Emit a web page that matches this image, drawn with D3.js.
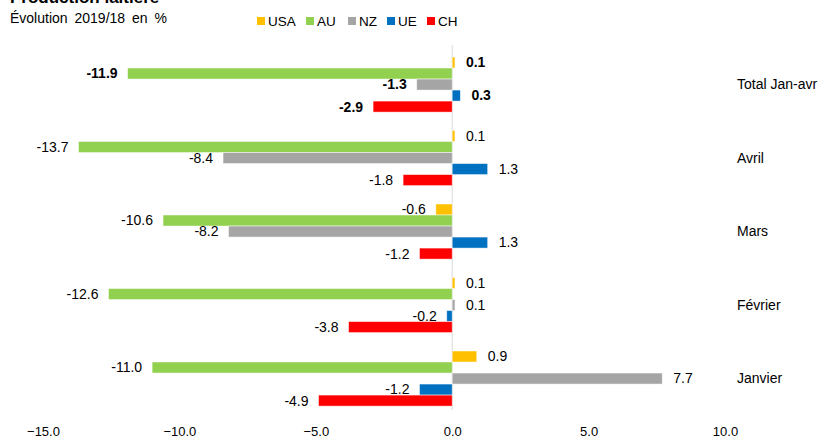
<!DOCTYPE html>
<html>
<head>
<meta charset="utf-8">
<script src="https://cdn.jsdelivr.net/npm/d3@7"></script>
<style>
  body { margin: 0; background: #fff; }
  text { font-family: "Liberation Sans", Arial, sans-serif; }
</style>
</head>
<body>
<div id="chart"></div>
<script>
  // data
  const groups = ["Total Jan-avr", "Avril", "Mars", "Février", "Janvier"];
  const series = ["USA", "AU", "NZ", "UE", "CH"];
  const colors = ["#FFC000", "#92D050", "#A5A5A5", "#0070C0", "#FF0000"];
  const usa = [0.1, 0.1, -0.6, 0.1, 0.9];
  const au = [-11.9, -13.7, -10.6, -12.6, -11.0];
  const nz = [-1.3, -8.4, -8.2, 0.1, 7.7];
  const ue = [0.3, 1.3, 1.3, -0.2, -1.2];
  const ch = [-2.9, -1.8, -1.2, -3.8, -4.9];
  const xTicks = [-15, -10, -5, 0, 5, 10];

  const values = [usa, au, nz, ue, ch];
  const data = [];
  groups.forEach((g, gi) => {
    series.forEach((s, si) => {
      data.push({ group: g, series: s, value: values[si][gi], bold: gi === 0 });
    });
  });

  const width = 821;
  const height = 439;

  const svg = d3
    .select("#chart")
    .append("svg")
    .attr("width", width)
    .attr("height", height);

  // scales
  const x = d3.scaleLinear().domain([-15, 10]).range([43, 725]);

  const y0 = d3
    .scaleBand()
    .domain(groups)
    .range([47.8, 415.3])
    .paddingInner(0.25)
    .paddingOuter(0.125);

  const y1 = d3.scaleBand().domain(series).range([0, y0.bandwidth()]);

  const color = d3.scaleOrdinal().domain(series).range(colors);

  // title (cut off at the top, like the original) and subtitle
  svg
    .append("text")
    .attr("x", 10)
    .attr("y", 3)
    .style("font-size", "17px")
    .style("font-weight", "bold")
    .style("fill", "#000")
    .text("Production laitière");

  svg
    .append("text")
    .attr("x", 10)
    .attr("y", 23)
    .style("font-size", "14px")
    .style("word-spacing", "3px")
    .style("fill", "#000")
    .text("Évolution 2019/18 en %");

  // legend
  const legendX = [257, 306, 348, 387, 427];
  const legend = svg
    .selectAll(".legend")
    .data(series)
    .join("g")
    .attr("transform", (d, i) => `translate(${legendX[i]}, 21)`);

  legend
    .append("rect")
    .attr("x", 0)
    .attr("y", -4)
    .attr("width", 8)
    .attr("height", 8)
    .attr("fill", (d) => color(d));

  legend
    .append("text")
    .attr("x", 11)
    .attr("dy", "0.35em")
    .style("font-size", "13.5px")
    .style("fill", "#000")
    .text((d) => d);

  // zero line
  svg
    .append("line")
    .attr("x1", x(0))
    .attr("x2", x(0))
    .attr("y1", 45)
    .attr("y2", 410)
    .attr("stroke", "#d9d9d9")
    .attr("stroke-width", 1);

  // bars
  svg
    .selectAll(".bar")
    .data(data)
    .join("rect")
    .attr("class", "bar")
    .attr("x", (d) => x(Math.min(0, d.value)))
    .attr("y", (d) => y0(d.group) + y1(d.series))
    .attr("width", (d) => Math.abs(x(d.value) - x(0)))
    .attr("height", y1.bandwidth())
    .attr("fill", (d) => color(d.series))
    .attr("stroke", "#fff")
    .attr("stroke-opacity", 0.6)
    .attr("stroke-width", 0.8);

  // value labels
  svg
    .selectAll(".val")
    .data(data)
    .join("text")
    .attr("class", "val")
    .attr("x", (d) => (d.value < 0 ? x(d.value) - 10 : x(d.value) + 11))
    .attr("y", (d) => y0(d.group) + y1(d.series) + y1.bandwidth() / 2)
    .attr("dy", "0.35em")
    .attr("text-anchor", (d) => (d.value < 0 ? "end" : "start"))
    .style("font-size", "14px")
    .style("font-weight", (d) => (d.bold ? "bold" : "normal"))
    .style("fill", "#000")
    .text((d) => d.value.toFixed(1));

  // category labels on the right
  svg
    .selectAll(".cat")
    .data(groups)
    .join("text")
    .attr("class", "cat")
    .attr("x", 737)
    .attr("y", (d) => y0(d) + y0.bandwidth() / 2)
    .attr("dy", "0.35em")
    .style("font-size", "14px")
    .style("fill", "#000")
    .text((d) => d);

  // x axis labels only
  const xAxis = svg
    .append("g")
    .attr("transform", "translate(0, 424)")
    .style("font-size", "13px")
    .call(d3.axisBottom(x).tickValues(xTicks).tickFormat(d3.format(".1f")).tickSize(0));

  xAxis.select(".domain").remove();
  xAxis
    .selectAll("text")
    .style("font-family", "'Liberation Sans', Arial, sans-serif")
    .attr("fill", "#000");
</script>
</body>
</html>
